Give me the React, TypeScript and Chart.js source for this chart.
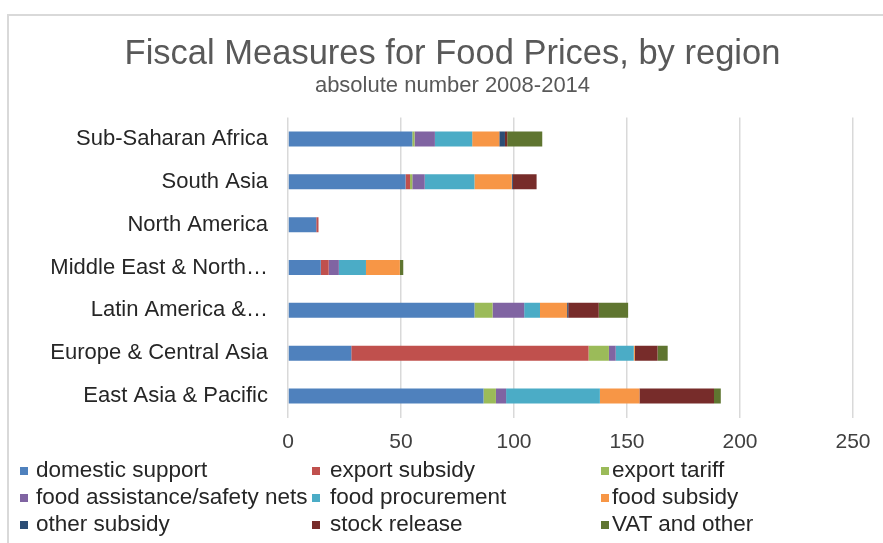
import React, { useEffect, useRef } from "react";
import { Chart, registerables } from "chart.js";

Chart.register(...registerables);

const categories = [
  "Sub-Saharan Africa",
  "South Asia",
  "North America",
  "Middle East & North…",
  "Latin America &…",
  "Europe & Central Asia",
  "East Asia & Pacific",
];

const domesticSupport = [55, 52, 12.5, 14.5, 82.5, 28, 86.5];
const exportSubsidy = [0, 2, 1, 3.5, 0, 105, 0];
const exportTariff = [1, 1, 0, 0, 8, 9, 5.5];
const foodAssistance = [9, 5.5, 0, 4.5, 14, 3, 4.5];
const foodProcurement = [16.5, 22, 0, 12, 7, 8, 41.5];
const foodSubsidy = [12, 16.5, 0, 15, 12, 0.5, 17.5];
const otherSubsidy = [2.5, 0.5, 0, 0, 0.5, 0, 0];
const stockRelease = [1, 10.5, 0, 0, 13.5, 10, 33];
const vatOther = [15.5, 0, 0, 1.5, 13, 4.5, 3];

const seriesNames = [
  "domestic support",
  "export subsidy",
  "export tariff",
  "food assistance/safety nets",
  "food procurement",
  "food subsidy",
  "other subsidy",
  "stock release",
  "VAT and other",
];
const seriesValues = [
  domesticSupport,
  exportSubsidy,
  exportTariff,
  foodAssistance,
  foodProcurement,
  foodSubsidy,
  otherSubsidy,
  stockRelease,
  vatOther,
];
const seriesColors = [
  "#4F81BD",
  "#C0504D",
  "#9BBB59",
  "#8064A2",
  "#4BACC6",
  "#F79646",
  "#2C4D75",
  "#772C2A",
  "#5F7530",
];

const title = "Fiscal Measures for Food Prices, by region";
const subtitle = "absolute number 2008-2014";

const FONT = "'Liberation Sans', Arial, sans-serif";

export default function App() {
  const canvasRef = useRef<HTMLCanvasElement | null>(null);

  useEffect(() => {
    if (!canvasRef.current) return;
    const chart = new Chart(canvasRef.current, {
      type: "bar",
      data: {
        labels: categories,
        datasets: seriesNames.map((name, i) => ({
          label: name,
          data: seriesValues[i],
          backgroundColor: seriesColors[i],
          borderWidth: 0,
          categoryPercentage: 1,
          barPercentage: 0.35,
        })),
      },
      options: {
        indexAxis: "y",
        animation: false,
        responsive: false,
        devicePixelRatio: 1,
        layout: { padding: { top: 117.5, bottom: 80.5, left: 0, right: 30 } },
        plugins: {
          legend: { display: false },
          title: { display: false },
          tooltip: { enabled: false },
        },
        scales: {
          x: {
            stacked: true,
            min: 0,
            max: 250,
            ticks: {
              stepSize: 50,
              color: "#404040",
              font: { family: FONT, size: 21 },
              padding: 12,
            },
            grid: { color: "#d9d9d9", lineWidth: 1.5, drawTicks: false },
            border: { display: false },
            afterFit: (s: any) => {
              s.height = 45;
            },
          },
          y: {
            stacked: true,
            ticks: {
              color: "#262626",
              font: { family: FONT, size: 22 },
              padding: 20,
              autoSkip: false,
            },
            grid: { display: false, drawTicks: false },
            border: { display: false },
            afterFit: (s: any) => {
              s.width = 288;
            },
          },
        },
      },
    });
    return () => chart.destroy();
  }, []);

  const colX = [20, 312, 601];
  const textX = [36, 330, 612];
  const rowY = [470, 497, 524];

  return (
    <div
      style={{
        position: "fixed",
        left: 0,
        top: 0,
        width: 883,
        height: 543,
        background: "#fff",
        overflow: "hidden",
        fontFamily: FONT,
      }}
    >
      <div
        style={{
          position: "absolute",
          left: 7,
          top: 14,
          width: 900,
          height: 600,
          borderTop: "2px solid #d9d9d9",
          borderLeft: "2px solid #d9d9d9",
        }}
      />
      <canvas
        ref={canvasRef}
        width={883}
        height={543}
        style={{ position: "absolute", left: 0, top: 0, width: 883, height: 543 }}
      />
      <div
        style={{
          position: "absolute",
          left: 0,
          top: 32,
          width: 905,
          textAlign: "center",
          fontSize: 34.5,
          lineHeight: "40px",
          color: "#595959",
          whiteSpace: "nowrap",
        }}
      >
        {title}
      </div>
      <div
        style={{
          position: "absolute",
          left: 0,
          top: 72,
          width: 905,
          textAlign: "center",
          fontSize: 22,
          lineHeight: "26px",
          color: "#595959",
          whiteSpace: "nowrap",
        }}
      >
        {subtitle}
      </div>
      {seriesNames.map((name, i) => {
        const c = i % 3;
        const r = Math.floor(i / 3);
        return (
          <React.Fragment key={name}>
            <div
              style={{
                position: "absolute",
                left: colX[c],
                top: rowY[r] - 3,
                width: 8,
                height: 8,
                background: seriesColors[i],
              }}
            />
            <div
              style={{
                position: "absolute",
                left: textX[c],
                top: rowY[r] - 13,
                fontSize: 22.5,
                lineHeight: "26px",
                color: "#262626",
                whiteSpace: "nowrap",
              }}
            >
              {name}
            </div>
          </React.Fragment>
        );
      })}
    </div>
  );
}
